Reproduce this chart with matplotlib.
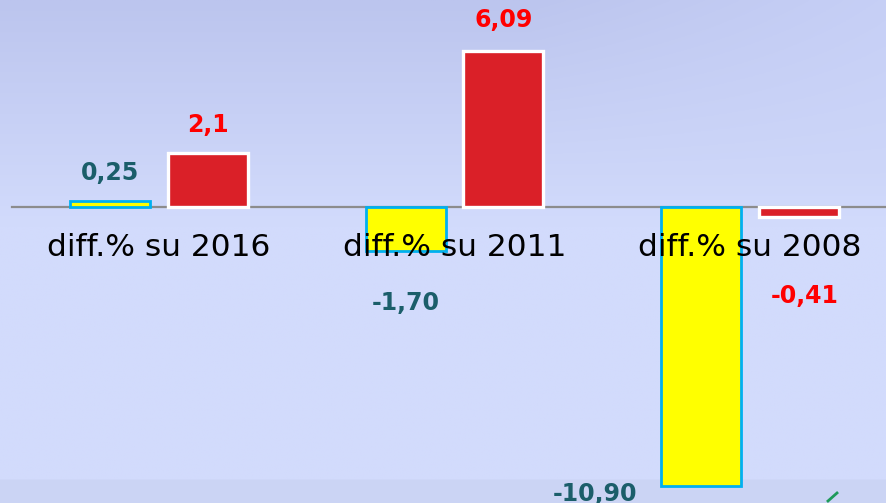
import numpy as np
import matplotlib
matplotlib.use("Agg")
import matplotlib.pyplot as plt
from matplotlib.lines import Line2D

categories = ["diff.% su 2016", "diff.% su 2011", "diff.% su 2008"]
series_a = [0.25, -1.70, -10.90]
series_b = [2.1, 6.09, -0.41]
labels_a = ["0,25", "-1,70", "-10,90"]
labels_b = ["2,1", "6,09", "-0,41"]

# label offsets (pixels) relative to bar end
offs_a = [(0, 28), (0, -52), (-106, -8)]
offs_b = [(0, 28), (0, 31), (6, -79)]

W, H = 886, 503
fig = plt.figure(figsize=(W / 100, H / 100), dpi=100)

# background gradient
bg = fig.add_axes([0, 0, 1, 1], zorder=0)
yy = np.linspace(0, 1, 300)[:, None]
xx = np.linspace(0, 1, 400)[None, :]
top = np.array([188, 197, 238]) / 255
mid = np.array([210, 219, 252]) / 255
t = np.clip(yy / 0.45, 0, 1)
img = top[None, None, :] * (1 - t[..., None]) + mid[None, None, :] * t[..., None]
img = np.broadcast_to(img, (300, 400, 3)).copy()
light = np.clip((xx - 0.6) / 0.4, 0, 1) * np.clip(1 - yy / 0.35, 0, 1)
img = img + light[..., None] * (np.array([0.04, 0.04, 0.03]))
band = (yy > 0.955).astype(float)
img = img * (1 - 0.03 * band[..., None])
img = np.clip(img, 0, 1)
bg.imshow(img, aspect="auto", extent=[0, 1, 0, 1], origin="upper")
bg.axis("off")

ax = fig.add_axes([0, 0, 1, 1], zorder=1)
ax.patch.set_alpha(0)
px_per_unit = 25.6
zero_px = 207
ax.set_ylim(-(H - zero_px) / px_per_unit, zero_px / px_per_unit)
gx0, gsp = 159, 295.5
ax.set_xlim(-gx0 / gsp, (W - gx0) / gsp)
ax.axis("off")

x = np.arange(len(categories))
bw = 80 / gsp
off = 49 / gsp

ax.axhline(0, xmin=12 / W, xmax=1, color="#8c8c8c", lw=1.6, zorder=1)

ax.bar(x - off, series_a, bw, color="#ffff00", edgecolor="#00b0f0", lw=2, zorder=2)
ax.bar(x + off, series_b, bw, color="#da2028", edgecolor="white", lw=2.4, zorder=2)

for i, c in enumerate(categories):
    ax.text(x[i], -41 / px_per_unit, c, fontsize=22.5, color="black",
            ha="center", va="center", zorder=5)

for i in range(len(categories)):
    ax.annotate(labels_a[i], (x[i] - off, series_a[i]), xytext=offs_a[i],
                textcoords="offset pixels", ha="center", va="center",
                fontsize=17, fontweight="bold", color="#1b5e6a", zorder=6)
    ax.annotate(labels_b[i], (x[i] + off, series_b[i]), xytext=offs_b[i],
                textcoords="offset pixels", ha="center", va="center",
                fontsize=17, fontweight="bold", color="#ff0000", zorder=6)

# small green mark bottom right
fig.add_artist(Line2D([828 / W, 837 / W], [1 - 501 / H, 1 - 493 / H],
                      transform=fig.transFigure, color="#1e9a5a", lw=2))

fig.savefig("out.png", dpi=100)
